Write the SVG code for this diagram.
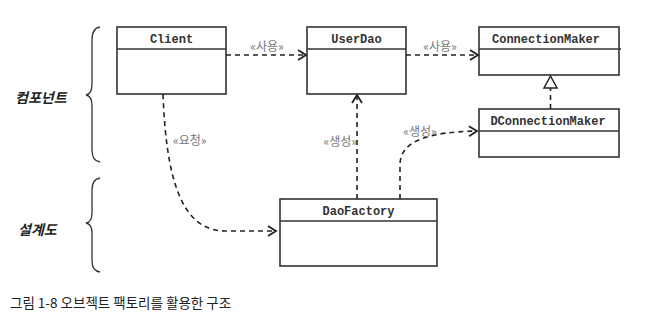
<svg xmlns="http://www.w3.org/2000/svg" width="664" height="324" viewBox="0 0 664 324">
<style>
.box{fill:#fff;stroke:#333;stroke-width:1.6}
.div{stroke:#333;stroke-width:1.4}
.cls{font-family:"Liberation Mono","Courier New",monospace;font-weight:bold;font-size:12px;fill:#333;text-anchor:middle}
.lbl{font-family:"Noto Sans CJK KR","Noto Sans",sans-serif;font-size:12px;fill:#777}
.dash{fill:none;stroke:#222;stroke-width:1.6;stroke-dasharray:5,4}
.brace{fill:none;stroke:#333;stroke-width:1.3}
.side{font-family:"Noto Sans CJK KR",sans-serif;font-size:14px;font-weight:bold;font-style:italic;fill:#222}
.cap{font-family:"Noto Sans CJK KR",sans-serif;font-size:13.5px;fill:#222}
</style>
<defs>
<marker id="open" markerWidth="12" markerHeight="12" refX="10" refY="6" orient="auto" markerUnits="userSpaceOnUse">
<path d="M2,1 L10,6 L2,11" fill="none" stroke="#222" stroke-width="1.8"/>
</marker>
</defs>
<rect width="664" height="324" fill="#fff"/>

<g id="braces">
<path class="brace" d="M100,27 Q92,28 92,40 L92,84 Q92,94 86,95 Q92,96 92,106 L92,150 Q92,161 100,162"/>
<path class="brace" d="M100,178 Q92,179 92,190 L92,213 Q92,222 86,223 Q92,224 92,233 L92,261 Q92,271 100,272"/>
<text class="side" x="15" y="103">컴포넌트</text>
<text class="side" x="18" y="235">설계도</text>
</g>

<g id="Client">
<rect class="box" x="117" y="27" width="109" height="67"/>
<line class="div" x1="117" y1="49" x2="226" y2="49"/>
<text class="cls" x="171.5" y="43">Client</text>
</g>
<g id="UserDao">
<rect class="box" x="307" y="27" width="99" height="67"/>
<line class="div" x1="307" y1="49" x2="406" y2="49"/>
<text class="cls" x="356.5" y="43">UserDao</text>
</g>
<g id="ConnectionMaker">
<rect class="box" x="479" y="27" width="140" height="48"/>
<line class="div" x1="479" y1="49" x2="621" y2="49"/>
<text class="cls" x="546" y="43">ConnectionMaker</text>
</g>
<g id="DConnectionMaker">
<rect class="box" x="479" y="109" width="140" height="48"/>
<line class="div" x1="479" y1="131" x2="619" y2="131"/>
<text class="cls" x="548" y="125">DConnectionMaker</text>
</g>
<g id="DaoFactory">
<rect class="box" x="280" y="199" width="157" height="67"/>
<line class="div" x1="280" y1="221" x2="437" y2="221"/>
<text class="cls" x="358.5" y="215">DaoFactory</text>
</g>

<g id="connectors">
<path class="dash" d="M226,55 L306,55" marker-end="url(#open)"/>
<text class="lbl" x="267" y="51" text-anchor="middle">«사용»</text>
<path class="dash" d="M406,55 L478,55" marker-end="url(#open)"/>
<text class="lbl" x="440" y="51" text-anchor="middle">«사용»</text>
<path class="dash" d="M550.5,109 L550.5,88"/>
<path d="M550.5,76 L544,88 L557,88 Z" fill="#fff" stroke="#222" stroke-width="1.5"/>
<path class="dash" d="M163,94 C166,175 180,231 225,231 L276,231" marker-end="url(#open)"/>
<text class="lbl" x="173" y="145">«요청»</text>
<path class="dash" d="M357,199 L357,95" marker-end="url(#open)"/>
<text class="lbl" x="357" y="146" text-anchor="end">«생성»</text>
<path class="dash" d="M400,199 L400,165 C400,140 430,132 477,131" marker-end="url(#open)"/>
<text class="lbl" x="420" y="136" text-anchor="middle">«생성»</text>
</g>

<text class="cap" x="10" y="308">그림 1-8 오브젝트 팩토리를 활용한 구조</text>
</svg>
